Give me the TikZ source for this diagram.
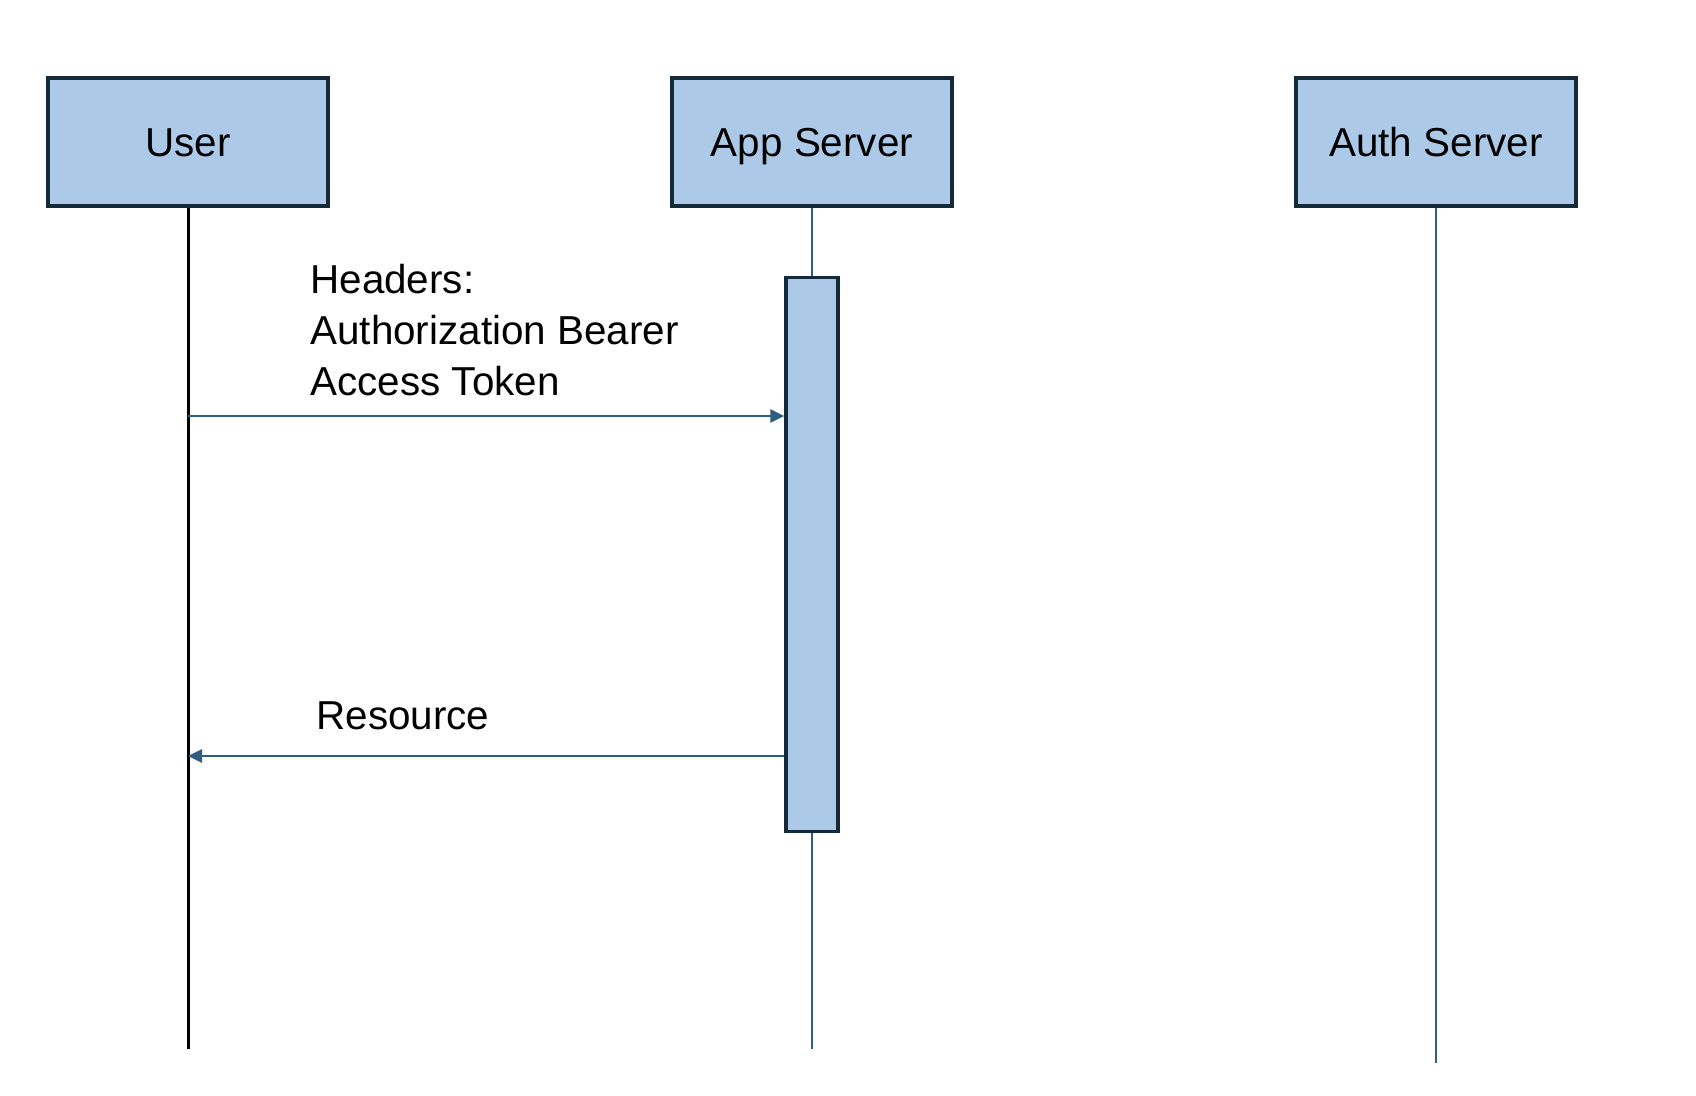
\documentclass[tikz,border=0pt]{standalone}
\usepackage{fontspec}
\setmainfont{Liberation Sans}
\usetikzlibrary{arrows.meta}
\definecolor{boxfill}{HTML}{ADC9E8}
\definecolor{boxline}{HTML}{14293A}
\definecolor{lifeline}{HTML}{2E5F80}
\def\boxw{280}
\def\boxh{128}
\def\topy{142}
\def\msgfont{\fontsize{20.2}{25.3}\selectfont}

\begin{document}
\begin{tikzpicture}[x=0.5pt,y=-0.5pt,
  actor/.style={draw=boxline, fill=boxfill, line width=1.7pt, minimum width=\boxw*0.5pt, minimum height=\boxh*0.5pt, font=\msgfont, inner sep=0pt, text height=14.5pt, text depth=0pt},
  life/.style={draw=lifeline, line width=1.3pt},
  msg/.style={draw=lifeline, line width=1.3pt, -{Triangle[length=7pt,width=6.5pt]}},
  ]
\useasboundingbox (0,0) rectangle (1696,1096);

% Participants
\node[actor] (user) at (188,\topy) {User};
\node[actor] (app) at (812,\topy) {App Server};
\node[actor] (auth) at (1436,\topy) {Auth Server};

% Lifelines
\coordinate (user end) at (188,1049);
\coordinate (app end) at (812,1049);
\coordinate (auth end) at (1436,1063);
\draw[black, line width=1.5pt] (user.south) -- (user end); % User lifeline
\draw[life] (app.south) -- (app end); % App Server lifeline
\draw[life] (auth.south) -- (auth end); % Auth Server lifeline

% Activation bar
\node[actor, minimum width=26pt, minimum height=277pt, anchor=north] (act) at (812,276) {};

% Messages
\coordinate (req) at (188,416);
\coordinate (res) at (188,756);
\draw[msg] (req) -- (req -| act.west); % request
\draw[msg] (res -| act.west) -- (res); % response

% Labels
\node[font=\msgfont, anchor=base west, align=left, inner sep=0pt] (hdr) at (310,395) {Headers:\\Authorization Bearer\\Access Token};
\node[font=\msgfont, anchor=base west, inner sep=0pt] (resource) at (316,729) {Resource};

\end{tikzpicture}
\end{document}
